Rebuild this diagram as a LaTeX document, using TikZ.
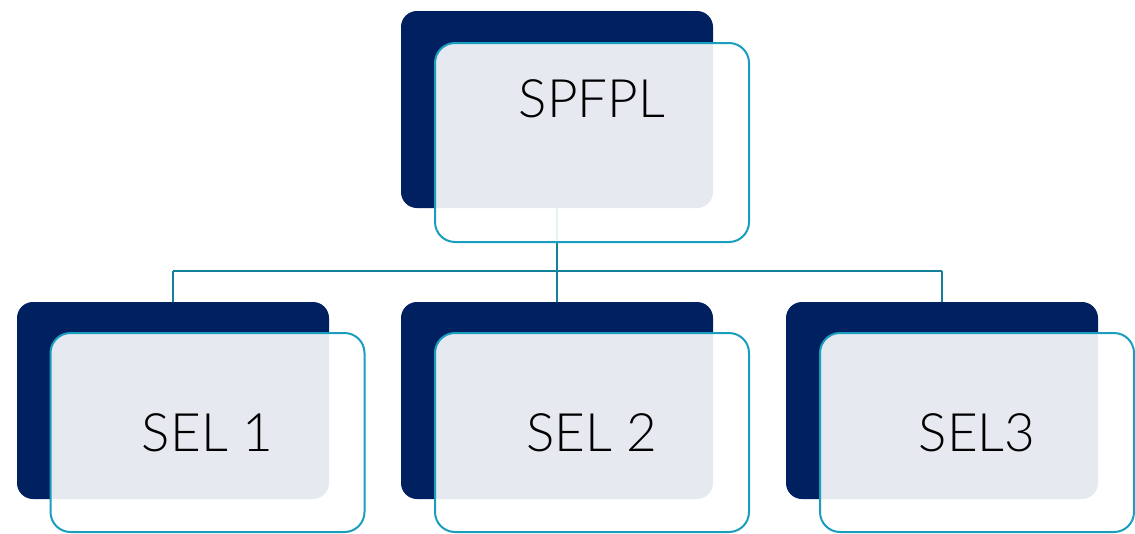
\documentclass[tikz,border=0pt]{standalone}
\usepackage{fontspec}
\newfontfamily\labelfont{Lato Light}
\definecolor{navy}{HTML}{002060}
\definecolor{rim}{HTML}{1A9EC0}
\definecolor{wire}{HTML}{12809A}
\tikzset{
  backcard/.style={draw=none, fill=navy, rounded corners=16pt,
    minimum width=312pt, minimum height=197pt, inner sep=0pt},
  frontcard/.style={draw=rim, line width=2pt, fill=white, fill opacity=0.9,
    text opacity=1, rounded corners=20pt, minimum width=314pt,
    minimum height=199pt, inner sep=0pt},
  cardtext/.style={font=\labelfont\fontsize{53}{60}\selectfont, text=black, inner sep=0pt},
  wireline/.style={draw=wire, line width=2pt}
}
\begin{document}
\begin{tikzpicture}[x=1pt,y=-1pt]
\useasboundingbox (0,0) rectangle (1135,533);
% dark back cards
\node[backcard] (tb) at (557,109.5) {};
\node[backcard] (b1) at (173,400.5) {};
\node[backcard] (b2) at (557,400.5) {};
\node[backcard] (b3) at (942,400.5) {};
% tree wiring
\coordinate (hub) at (557,271);
\coordinate (l1) at (173,271);
\coordinate (l3) at (942,271);
\draw[wireline] (tb.south) -- (hub);
\draw[wireline] (l1) -- (l3);
\draw[wireline] (l1) -- (b1.north);
\draw[wireline] (hub) -- (b2.north);
\draw[wireline] (l3) -- (b3.north);
% translucent front cards
\node[frontcard] (tf) at (592,142.5) {};
\node[frontcard] (f1) at (207.5,432.5) {};
\node[frontcard] (f2) at (592,432.5) {};
\node[frontcard] (f3) at (977,432.5) {};
% labels
\node[cardtext] (tt) at (592,99) {SPFPL};
\node[cardtext] at (f1) {SEL 1};
\node[cardtext] at (f2) {SEL 2};
\node[cardtext] at (f3) {SEL3};
\end{tikzpicture}
\end{document}
